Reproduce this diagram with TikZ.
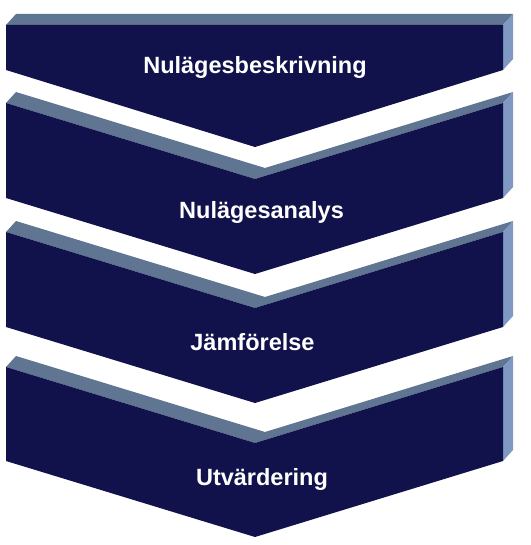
\documentclass[tikz,border=0pt]{standalone}
\usepackage{fontspec}
\setmainfont{Liberation Sans}
\definecolor{navy}{RGB}{17,17,75}
\definecolor{topface}{RGB}{95,117,145}
\definecolor{sideface}{RGB}{127,153,194}
\begin{document}
\begin{tikzpicture}[x=1bp,y=-1bp,
  front/.style={fill=navy},
  topf/.style={fill=topface},
  sidef/.style={fill=sideface},
  label/.style={text=white,font=\bfseries\fontsize{23.6}{28}\selectfont,inner sep=0pt,anchor=base}]
\useasboundingbox[fill=white] (0,0) rectangle (531,545);
% first chevron (flat top)
\fill[topf] (6,25) -- (16,14) -- (513,14) -- (503,25) -- cycle;
\fill[sidef] (503,25) -- (513,14) -- (513,59) -- (503,70) -- cycle;
\fill[front] (6,25) -- (503,25) -- (503,70) -- (255,147) -- (6,70) -- cycle;
% V chevrons
\foreach \t/\b in {103/198,232/327,367/461}{
  \fill[topf] (6,\t) -- (16,{\t-11}) -- (265,{\t+65}) -- (513,{\t-11}) -- (503,\t) -- (255,{\t+76}) -- cycle;
  \fill[sidef] (503,\t) -- (513,{\t-11}) -- (513,{\b-11}) -- (503,\b) -- cycle;
  \fill[front] (6,\t) -- (255,{\t+76}) -- (503,\t) -- (503,\b) -- (255,{\b+76}) -- (6,\b) -- cycle;
}
\node[label] (t1) at (255,74) {Nulägesbeskrivning};
\node[label] (t2) at (261.5,218) {Nulägesanalys};
\node[label] (t3) at (252.5,350) {Jämförelse};
\node[label] (t4) at (262,485) {Utvärdering};
\end{tikzpicture}
\end{document}
